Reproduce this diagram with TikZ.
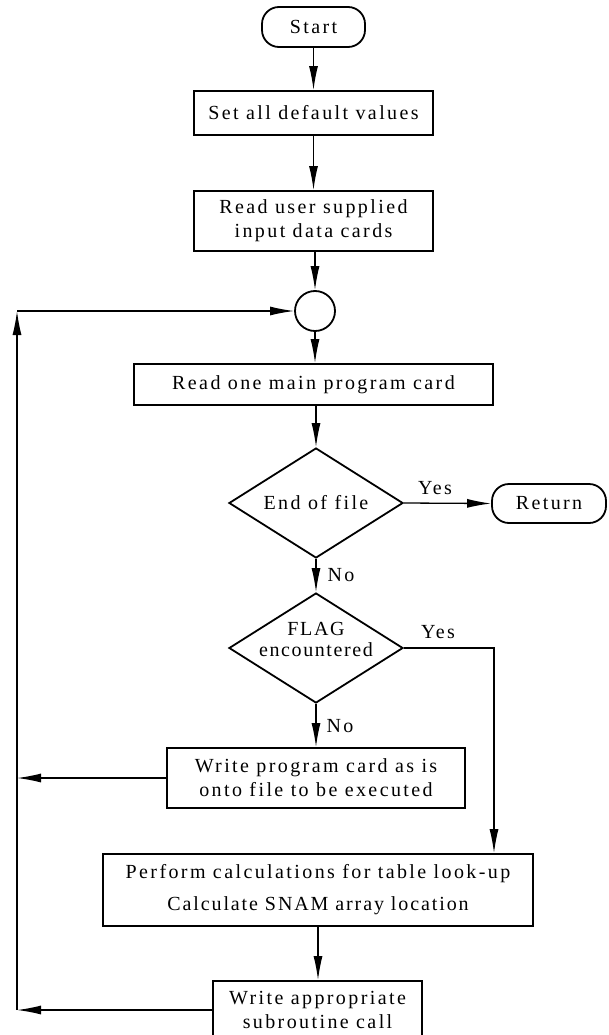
\documentclass[tikz,border=0pt]{standalone}
\usepackage{fontspec}
\setmainfont{Liberation Serif}[LetterSpace=12]
\usetikzlibrary{arrows.meta,shapes.geometric}
\begin{document}
\begin{tikzpicture}[x=1pt,y=-1pt,
  txt/.style={font=\fontsize{20}{24}\selectfont},
  box/.style={draw, line width=1.8pt, rectangle, inner sep=0pt, align=center, txt},
  term/.style={box, rounded corners=17pt},
  dec/.style={draw, line width=1.8pt, diamond, inner sep=0pt, minimum width=174pt, minimum height=110pt},
  arr/.style={line width=1.3pt, -{Latex[length=24pt,width=9pt]}},
  lbl/.style={txt, inner sep=0pt}]
\clip (0,0) rectangle (608,1035);
\node[term, minimum width=103pt, minimum height=40pt] (start) at (313.5,27) {Start};
\node[box, minimum width=239pt, minimum height=44pt] (set) at (313.5,113) {Set all default values};
\node[box, minimum width=239pt, minimum height=60pt] (user) at (313.5,221) {Read user supplied\\input data cards};
\node[draw, circle, line width=1.8pt, minimum size=40pt, inner sep=0pt] (circ) at (315,311) {};
\node[box, minimum width=359pt, minimum height=41pt] (main) at (313.5,384.5) {Read one main program card};
\node[dec] (eof) at (316,503) {};
\node[lbl] (eoft) at (316,503) {End of file};
\node[term, minimum width=114pt, minimum height=39pt] (ret) at (549,503.5) {Return};
\node[dec] (flag) at (316,648) {};
\node[lbl, align=center, font=\fontsize{20}{21}\selectfont\addfontfeatures{LetterSpace=8}] (flagt) at (316,639) {FLAG\\encountered};
\node[box, minimum width=298pt, minimum height=60pt] (wprog) at (316,778) {Write program card as is\\onto file to be executed};
\node[box, minimum width=430pt, minimum height=72pt] (perf) at (318,890) {Perform calculations for table look-up\\[8pt]{\addfontfeatures{LetterSpace=9.5}Calculate SNAM array location}};
\node[box, minimum width=209pt, minimum height=58pt] (wapp) at (317.5,1010) {Write appropriate\\subroutine call};
\node[lbl] (yes1) at (435,488) {Yes};
\node[lbl] (no1) at (341,575) {No};
\node[lbl] (yes2) at (438,632) {Yes};
\node[lbl] (no2) at (340,726) {No};
\coordinate (yc) at (494,648);
\coordinate (l0) at (17,311);
\coordinate (l1) at (17,778);
\coordinate (l2) at (17,1010);
\draw[arr] (start) -- (set);
\draw[arr] (set) -- (user);
\draw[arr] (user.south -| circ) -- (circ.north);
\draw[arr] (circ.south) -- (circ.south |- main.north);
\draw[arr] (main.south -| eof) -- (eof.north);
\draw[arr] (eof.east) -- (ret.west);
\draw[arr] (eof.south) -- (flag.north);
\draw[arr] (flag.east) -- (yc) -- (yc |- perf.north);
\draw[arr] (flag.south) -- (flag.south |- wprog.north);
\draw[arr] (wprog.west) -- (l1);
\draw[arr] (perf.south) -- (perf.south |- wapp.north);
\draw[arr] (l2 -| wapp.west) -- (l2);
\draw[arr] (l2) -- (l0);
\draw[arr] (l0) -- (circ.west);
\end{tikzpicture}
\end{document}
